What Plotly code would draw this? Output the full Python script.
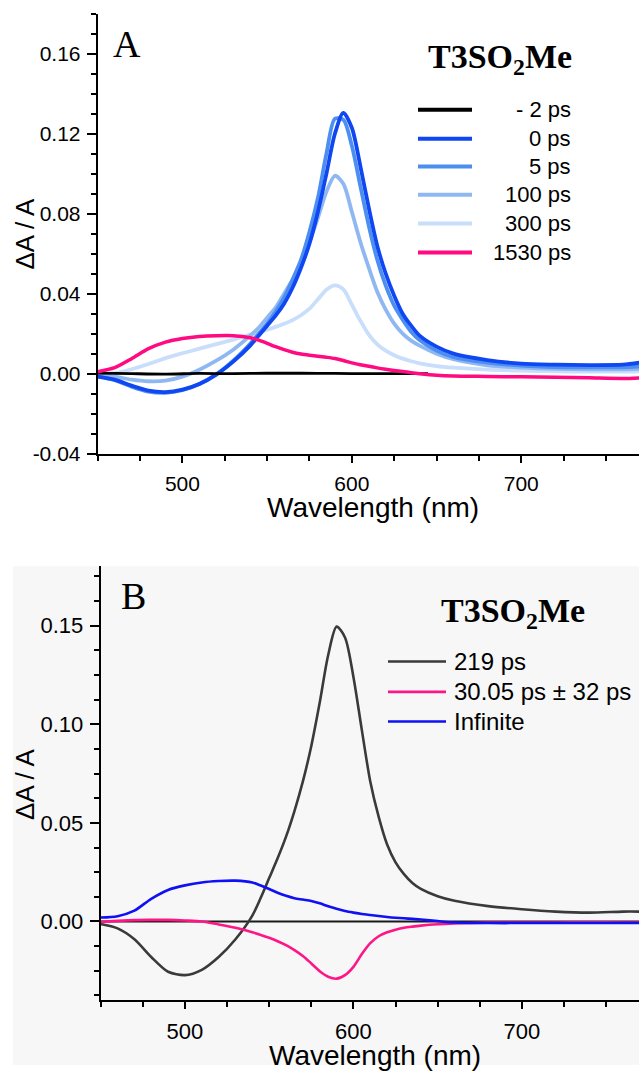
import plotly.graph_objects as go

W, H = 639, 1076

# ---------------- Panel A data ----------------
wl_a = [450, 460, 470, 480, 490, 500, 510, 520, 530, 540, 545, 550, 555, 560, 565, 570, 575, 580,
        585, 590, 595, 600, 605, 610, 615, 620, 625, 630, 635, 640, 650, 660, 680, 700,
        720, 740, 760, 770]
wl_m2 = [450, 470, 490, 510, 530, 550, 570, 590, 610, 630, 645]
a_m2ps = [0.0003, 0.0, -0.0002, 0.0001, 0.0, 0.0002, 0.0002, 0.0001, 0.0, 0.0, 0.0]
a_0ps = [-0.0015, -0.003, -0.006, -0.0085, -0.0092, -0.008, -0.0052, -0.0005, 0.006, 0.014,
         0.019, 0.024, 0.029, 0.035, 0.043, 0.053, 0.065, 0.081, 0.100, 0.120,
         0.1305, 0.123, 0.104, 0.083, 0.064, 0.050, 0.039, 0.030, 0.024, 0.0190,
         0.0135, 0.0100, 0.0068, 0.0050, 0.0045, 0.0043, 0.0045, 0.0055]
a_5ps = [-0.0015, -0.0032, -0.0065, -0.009, -0.0096, -0.0083, -0.0052, -0.0003, 0.0065, 0.015,
         0.020, 0.025, 0.031, 0.038, 0.047, 0.057, 0.071, 0.088, 0.110, 0.1275,
         0.127, 0.114, 0.094, 0.074, 0.057, 0.044, 0.034, 0.027, 0.021, 0.0168,
         0.0115, 0.0082, 0.0055, 0.0040, 0.0033, 0.0032, 0.0032, 0.0035]
a_100ps = [-0.001, -0.0015, -0.003, -0.0038, -0.0035, -0.0015, 0.002, 0.0065, 0.012, 0.019,
           0.023, 0.028, 0.033, 0.040, 0.047, 0.056, 0.066, 0.078, 0.091, 0.099,
           0.095, 0.081, 0.066, 0.053, 0.041, 0.032, 0.025, 0.020, 0.0165, 0.0140,
           0.0100, 0.0072, 0.0042, 0.0030, 0.0024, 0.0022, 0.0022, 0.0024]
a_300ps = [-0.0005, 0.0002, 0.0022, 0.0048, 0.0078, 0.0102, 0.0125, 0.0148, 0.0170, 0.0195,
           0.0207, 0.0220, 0.0234, 0.0250, 0.0268, 0.0292, 0.0325, 0.0372, 0.0420, 0.0442,
           0.0422, 0.0345, 0.0265, 0.0195, 0.0147, 0.0115, 0.0092, 0.0075, 0.0062, 0.0052,
           0.0038, 0.0030, 0.0020, 0.0015, 0.0012, 0.0010, 0.0010, 0.0012]
a_1530ps = [0.001, 0.003, 0.0075, 0.0125, 0.0158, 0.0176, 0.0186, 0.0190, 0.0190, 0.0180,
            0.0168, 0.0152, 0.0135, 0.0120, 0.0107, 0.0098, 0.0092, 0.0087, 0.0082, 0.0076,
            0.0066, 0.0054, 0.0045, 0.0037, 0.0029, 0.0022, 0.0016, 0.0011, 0.0005, 0.0000,
            -0.0008, -0.0012, -0.0014, -0.0016, -0.0018, -0.0021, -0.0024, -0.0021]
legend_a = ["- 2 ps", "0 ps", "5 ps", "100 ps", "300 ps", "1530 ps"]

# ---------------- Panel B data ----------------
wl_b = [450, 460, 470, 480, 490, 500, 510, 520, 530, 540, 545, 550, 555, 560, 565, 570, 575, 580,
        585, 590, 595, 600, 605, 610, 615, 620, 625, 630, 635, 640, 650, 660, 680, 700,
        720, 740, 760, 770]
b_219 = [-0.0013, -0.0035, -0.009, -0.018, -0.0255, -0.0272, -0.0245, -0.018, -0.009, 0.003,
         0.012, 0.022, 0.032, 0.043, 0.056, 0.071, 0.089, 0.111, 0.135, 0.1495,
         0.144, 0.124, 0.097, 0.071, 0.053, 0.039, 0.030, 0.024, 0.0195, 0.0165,
         0.0128, 0.0105, 0.0078, 0.0062, 0.0050, 0.0045, 0.0050, 0.0050]
b_30 = [-0.0002, 0.0003, 0.0007, 0.0008, 0.0008, 0.0005, 0.0, -0.0015, -0.0032, -0.0055,
        -0.0068, -0.0083, -0.0100, -0.0120, -0.0145, -0.0175, -0.0213, -0.0252, -0.0280, -0.0290,
        -0.0272, -0.0230, -0.0165, -0.0110, -0.0075, -0.0055, -0.0042, -0.0032, -0.0026, -0.0021,
        -0.0014, -0.0010, -0.0006, -0.0005, -0.0005, -0.0004, -0.0005, -0.0005]
b_inf = [0.0020, 0.0027, 0.0055, 0.0115, 0.0160, 0.0183, 0.0198, 0.0205, 0.0207, 0.0198,
         0.0182, 0.0165, 0.0146, 0.0130, 0.0118, 0.0111, 0.0104, 0.0092, 0.0077, 0.0064,
         0.0053, 0.0045, 0.0038, 0.0033, 0.0028, 0.0023, 0.0019, 0.0016, 0.0013, 0.0010,
         0.0002, -0.0005, -0.0008, -0.0008, -0.0008, -0.0008, -0.0008, -0.0008]
legend_b = ["219 ps", "30.05 ps \u00b1 32 ps", "Infinite"]

x_ticks = [500, 600, 700]
y_ticks_a = [-0.04, 0.00, 0.04, 0.08, 0.12, 0.16]
y_text_a = ["-0.04", "0.00", "0.04", "0.08", "0.12", "0.16"]
y_ticks_b = [0.00, 0.05, 0.10, 0.15]
y_text_b = ["0.00", "0.05", "0.10", "0.15"]

col_a = {"- 2 ps": "#000000", "0 ps": "#0f47f2", "5 ps": "#4d8ff0",
         "100 ps": "#8fb8f3", "300 ps": "#c8defb", "1530 ps": "#ff0a80"}
wid_a = {"- 2 ps": 2.8, "0 ps": 3.8, "5 ps": 3.8, "100 ps": 3.8, "300 ps": 3.8, "1530 ps": 3.5}
col_b = {"219 ps": "#3a3a3a", "30.05 ps \u00b1 32 ps": "#ff1686", "Infinite": "#1010f5"}

SANS = "Liberation Sans, Arial, sans-serif"
SERIF = "Liberation Serif, Times New Roman, serif"


def px(x):
    return x / W


def py(y):
    return 1 - y / H


fig = go.Figure()

series_a = {"300 ps": (wl_a, a_300ps), "100 ps": (wl_a, a_100ps), "5 ps": (wl_a, a_5ps),
            "0 ps": (wl_a, a_0ps), "- 2 ps": (wl_m2, a_m2ps), "1530 ps": (wl_a, a_1530ps)}
for name, (xs, ys) in series_a.items():
    fig.add_trace(go.Scatter(x=xs, y=ys, name=name, mode="lines",
                             line=dict(color=col_a[name], width=wid_a[name], shape="spline", smoothing=0.8),
                             xaxis="x", yaxis="y", showlegend=False))

series_b = {"219 ps": b_219, "30.05 ps \u00b1 32 ps": b_30, "Infinite": b_inf}
for name, ys in series_b.items():
    fig.add_trace(go.Scatter(x=wl_b, y=ys, name=name, mode="lines",
                             line=dict(color=col_b[name], width=2.6, shape="spline", smoothing=0.8),
                             xaxis="x2", yaxis="y2", showlegend=False))

XR = [450, 769.5]
domA_x = [px(97.7), 1]
domA_y = [py(458.3), py(14.0)]
domB_x = [px(100.7), 1]
domB_y = [py(1010.7), py(572.3)]

common_x = dict(range=XR, tickvals=x_ticks, ticks="outside", ticklen=7, tickwidth=2,
                tickcolor="black", showline=True, linecolor="black", linewidth=2,
                showgrid=False, zeroline=False, ticklabelstandoff=3,
                minor=dict(dtick=25, tick0=450, ticks="outside", ticklen=5, tickwidth=2, tickcolor="black"))
top_x = dict(range=XR, tickvals=x_ticks, ticks="inside", ticklen=9, tickwidth=2,
             tickcolor="black", showline=True, linecolor="black", linewidth=2,
             showgrid=False, zeroline=False, showticklabels=False, side="top",
             minor=dict(dtick=25, tick0=450, ticks="inside", ticklen=5, tickwidth=2, tickcolor="black"))

fig.update_layout(
    width=W, height=H, margin=dict(l=0, r=0, t=0, b=0),
    paper_bgcolor="white", plot_bgcolor="rgba(0,0,0,0)",
    xaxis=dict(domain=domA_x, anchor="y", tickfont=dict(family=SANS, size=21, color="black"),
               **common_x),
    xaxis3=dict(domain=domA_x, anchor="y", overlaying="x", **top_x),
    yaxis=dict(domain=domA_y, anchor="x", range=[-0.04, 0.18], tickvals=y_ticks_a,
               ticktext=y_text_a, ticks="outside", ticklen=9, tickwidth=2, tickcolor="black",
               showline=True, linecolor="black", linewidth=2, showgrid=False, zeroline=False,
               tickfont=dict(family=SANS, size=21, color="black"), ticklabelstandoff=2,
               minor=dict(dtick=0.01, tick0=0, ticks="outside", ticklen=5, tickwidth=2, tickcolor="black")),
    xaxis2=dict(domain=domB_x, anchor="y2", tickfont=dict(family=SANS, size=22, color="black"),
                **common_x),
    xaxis4=dict(domain=domB_x, anchor="y2", overlaying="x2", **top_x),
    yaxis2=dict(domain=domB_y, anchor="x2", range=[-0.04, 0.18], tickvals=y_ticks_b,
                ticktext=y_text_b, ticks="outside", ticklen=9, tickwidth=2, tickcolor="black",
                showline=True, linecolor="black", linewidth=2, showgrid=False, zeroline=False,
                tickfont=dict(family=SANS, size=22, color="black"), ticklabelstandoff=2,
                minor=dict(dtick=0.0125, tick0=0, ticks="outside", ticklen=5, tickwidth=2, tickcolor="black")),
)

shapes = []
# light grey scanned background of panel B
shapes.append(dict(type="rect", xref="paper", yref="paper", x0=px(13), x1=1, y0=0, y1=py(572),
                   fillcolor="#f7f7f7", line=dict(width=0), layer="below"))
# zero line in panel B
shapes.append(dict(type="line", xref="x2 domain", yref="y2", x0=0, x1=1, y0=0, y1=0,
                   line=dict(color="#1a1a1a", width=2), layer="below"))

annotations = []
# legend A (manual, right-aligned text)
rows_a = [111, 140.3, 168.3, 196.7, 225.7, 255]
for name, yy in zip(legend_a, rows_a):
    shapes.append(dict(type="line", xref="paper", yref="paper", x0=px(418), x1=px(472),
                       y0=py(yy), y1=py(yy), line=dict(color=col_a[name], width=4)))
    annotations.append(dict(text=name, xref="paper", yref="paper", x=px(573), y=py(yy),
                            xanchor="right", yanchor="middle", showarrow=False,
                            font=dict(family=SANS, size=22, color="black")))
# legend B
rows_b = [668.3, 699, 729]
for name, yy in zip(legend_b, rows_b):
    shapes.append(dict(type="line", xref="paper", yref="paper", x0=px(388), x1=px(446),
                       y0=py(yy), y1=py(yy), line=dict(color=col_b[name], width=2.6)))
    annotations.append(dict(text=name, xref="paper", yref="paper", x=px(452), y=py(yy),
                            xanchor="left", yanchor="middle", showarrow=False,
                            font=dict(family=SANS, size=24, color="black")))

# panel letters and compound names
annotations.append(dict(text="A", xref="paper", yref="paper", x=px(127), y=py(44),
                        xanchor="center", yanchor="middle", showarrow=False,
                        font=dict(family=SERIF, size=38, color="black")))
annotations.append(dict(text="B", xref="paper", yref="paper", x=px(133), y=py(602),
                        xanchor="center", yanchor="middle", showarrow=False,
                        font=dict(family=SERIF, size=38, color="black")))
annotations.append(dict(text="<b>T3SO<sub>2</sub>Me</b>", xref="paper", yref="paper", x=px(500), y=py(60),
                        xanchor="center", yanchor="middle", showarrow=False,
                        font=dict(family=SERIF, size=34, color="black")))
annotations.append(dict(text="<b>T3SO<sub>2</sub>Me</b>", xref="paper", yref="paper", x=px(513), y=py(619),
                        xanchor="center", yanchor="middle", showarrow=False,
                        font=dict(family=SERIF, size=34, color="black")))

# axis titles
annotations.append(dict(text="Wavelength (nm)", xref="paper", yref="paper", x=px(373), y=py(513),
                        xanchor="center", yanchor="middle", showarrow=False,
                        font=dict(family=SANS, size=28, color="black")))
annotations.append(dict(text="Wavelength (nm)", xref="paper", yref="paper", x=px(375), y=py(1066),
                        xanchor="center", yanchor="middle", showarrow=False,
                        font=dict(family=SANS, size=28, color="black")))
annotations.append(dict(text="\u0394A / A", xref="paper", yref="paper", x=px(25), y=py(236),
                        xanchor="center", yanchor="middle", showarrow=False, textangle=-90,
                        font=dict(family=SANS, size=26, color="black")))
annotations.append(dict(text="\u0394A / A", xref="paper", yref="paper", x=px(25), y=py(792),
                        xanchor="center", yanchor="middle", showarrow=False, textangle=-90,
                        font=dict(family=SANS, size=26, color="black")))

fig.update_layout(shapes=shapes, annotations=annotations)
fig.write_html("out.html")
